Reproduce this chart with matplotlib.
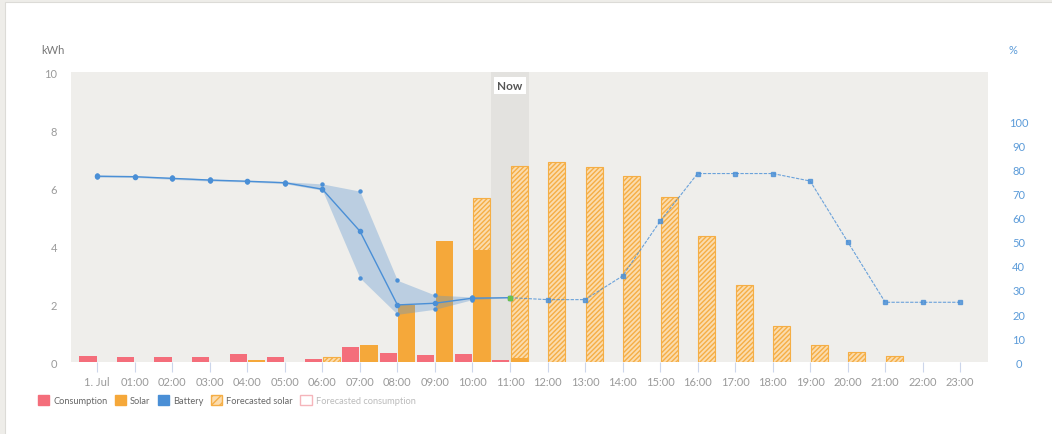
import numpy as np
import matplotlib
matplotlib.use("Agg")
import matplotlib.pyplot as plt
from matplotlib.patches import Patch, Rectangle

plt.rcParams['font.family'] = ['Lato', 'DejaVu Sans']
plt.rcParams['hatch.linewidth'] = 1.0

hours = ["1. Jul"] + [f"{h:02d}:00" for h in range(1, 24)]

consumption = [0.22, 0.17, 0.17, 0.17, 0.28, 0.17, 0.10, 0.52, 0.31, 0.24, 0.28, 0.07,
               np.nan, np.nan, np.nan, np.nan, np.nan, np.nan, np.nan, np.nan, np.nan, np.nan, np.nan, np.nan]
solar = [np.nan, np.nan, np.nan, np.nan, 0.07, np.nan, np.nan, 0.59, 1.98, 4.17, 3.86, 0.14,
         np.nan, np.nan, np.nan, np.nan, np.nan, np.nan, np.nan, np.nan, np.nan, np.nan, np.nan, np.nan]
forecast_solar = [np.nan, np.nan, np.nan, np.nan, np.nan, np.nan, 0.17, np.nan, np.nan, np.nan, 5.66, 6.76,
                  6.91, 6.72, 6.41, 5.69, 4.37, 2.68, 1.26, 0.61, 0.36, 0.21, np.nan, np.nan]
battery_soc = [77.2, 77.0, 76.3, 75.6, 75.1, 74.5, 71.8, 54.4, 23.8, 24.5, 26.6, 26.8,
               26.0, 26.0, 35.8, 58.5, 78.3, 78.3, 78.3, 75.2, 50.0, 24.9, 24.9, 24.9]
battery_low = [76.8, 76.7, 75.9, 75.2, 74.8, 74.1, 71.4, 35.0, 19.9, 22.0, 26.0, 26.8]
battery_high = [77.6, 77.3, 76.7, 76.0, 75.4, 74.9, 74.0, 71.0, 34.0, 27.9, 27.1, 26.8]
now_index = 11

C_CONS = '#f46e7b'
C_SOLAR = '#f5a83a'
C_BATT = '#4a8fd6'
C_FC_FACE = '#fbdcae'
C_FC_EDGE = '#f5ae45'
GRAY = '#9a9a9a'

W, H = 1052, 435
fig = plt.figure(figsize=(W / 100, H / 100), dpi=100)
fig.patch.set_facecolor('#eeede9')
fig.add_artist(Rectangle((5 / W, -0.01), 1.0, (H - 3) / H + 0.01, transform=fig.transFigure,
                         facecolor='white', edgecolor='#dcdbd7', linewidth=0.8))

L, R, T, B = 71, 988, 73.3, 363.3
ax = fig.add_axes([L / W, 1 - B / H, (R - L) / W, (B - T) / H])
ax.set_facecolor('#efeeeb')
ax.set_zorder(1)

x = np.arange(len(hours))
ax.set_xlim(-0.7, 23.74)
ax.set_ylim(0, 10)

ax.axvspan(now_index - 0.5, now_index + 0.5, color='#e3e2df', zorder=0, lw=0)
ax.text(now_index, 0.955, "Now", transform=ax.get_xaxis_transform(), ha='center', va='center',
        fontsize=8.5, fontweight='bold', color='#555555', zorder=6,
        bbox=dict(boxstyle='square,pad=0.25', facecolor='white', edgecolor='none'))

bw = 0.46
off = 0.245
ax.bar(x - off, consumption, width=bw, color=C_CONS, linewidth=0, zorder=2)
ax.bar(x + off, forecast_solar, width=bw, facecolor=C_FC_FACE, edgecolor=C_FC_EDGE,
       hatch='///////', linewidth=0.8, zorder=2)
ax.bar(x + off, solar, width=bw, color=C_SOLAR, linewidth=0, zorder=3)

for s in ax.spines.values():
    s.set_visible(False)
ax.set_yticks(np.arange(0, 11, 2))
ax.tick_params(axis='y', length=0, pad=10, labelsize=8, labelcolor=GRAY)
ax.set_xticks(x)
ax.set_xticklabels(hours)
ax.tick_params(axis='x', length=7, width=0.8, color='#ccd6eb', pad=3, labelsize=8, labelcolor=GRAY)

ax2 = ax.twinx()
ax2.set_zorder(2)
ax2.patch.set_visible(False)
ax2.set_ylim(0, 120.3)
for s in ax2.spines.values():
    s.set_visible(False)
ax2.set_yticks(np.arange(0, 101, 10))
ax2.tick_params(axis='y', length=0, pad=22, labelsize=8, labelcolor='#5b9bd9')
for lab in ax2.get_yticklabels():
    lab.set_horizontalalignment('center')

xa = x[:now_index + 1]
ax2.fill_between(xa, battery_low, battery_high, color='#5b95cf', alpha=0.35, lw=0, zorder=3)
ax2.plot(xa, battery_low, 'o', ms=2.2, color=C_BATT, zorder=4)
ax2.plot(xa, battery_high, 'o', ms=2.2, color=C_BATT, zorder=4)
ax2.plot(xa, battery_soc[:now_index + 1], '-o', color=C_BATT, lw=1.0, ms=3, zorder=5)
xf = x[now_index:]
ax2.plot(xf, battery_soc[now_index:], color=C_BATT, lw=0.8, ls=(0, (3, 1.2)), marker='s', ms=3,
         alpha=0.8, zorder=5)
ax2.plot([now_index], [battery_soc[now_index]], 's', color='#6cc24a', ms=3.5, zorder=6)

fig.text(53 / W, 1 - 51 / H, "kWh", ha='center', va='center', fontsize=8, color='#777777')
fig.text(1013 / W, 1 - 51 / H, "%", ha='center', va='center', fontsize=8, color='#5b9bd9')

handles = [
    Patch(facecolor=C_CONS, edgecolor=C_CONS),
    Patch(facecolor=C_SOLAR, edgecolor=C_SOLAR),
    Patch(facecolor=C_BATT, edgecolor=C_BATT),
    Patch(facecolor=C_FC_FACE, edgecolor=C_FC_EDGE, hatch='////'),
    Patch(facecolor='white', edgecolor='#f5b5bb'),
]
labels = ["Consumption", "Solar", "Battery", "Forecasted solar", "Forecasted consumption"]
leg = fig.legend(handles, labels, loc='center left', bbox_to_anchor=(33 / W, 1 - 401 / H), ncol=5,
                 frameon=False, fontsize=6.7, handlelength=1.2, handleheight=1.2, handletextpad=0.45,
                 columnspacing=0.8, borderpad=0)
for t in leg.get_texts():
    t.set_color('#666666')
leg.get_texts()[-1].set_color('#bbbbbb')

fig.savefig("out.png", dpi=100, facecolor=fig.get_facecolor())
